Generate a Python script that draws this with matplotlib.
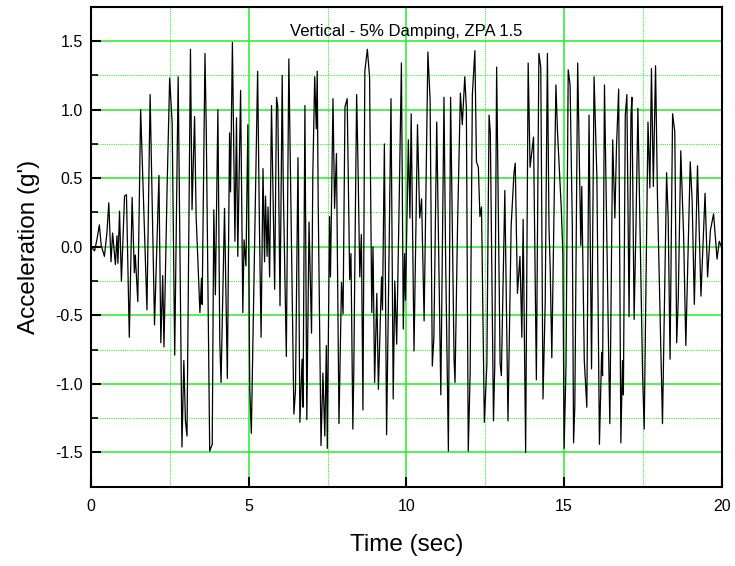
import matplotlib
matplotlib.use("Agg")
import matplotlib.pyplot as plt
from matplotlib.ticker import MultipleLocator

plt.rcParams['font.family'] = ['Liberation Sans', 'DejaVu Sans']

# acceleration time history (seconds, g)
times = [
    0.00, 0.11, 0.19, 0.26, 0.32, 0.42, 0.50, 0.56, 0.63, 0.68, 0.77, 0.82, 0.85, 0.90, 0.96,
    1.06, 1.12, 1.21, 1.30, 1.37, 1.40, 1.48, 1.57, 1.77, 1.87, 2.01, 2.06, 2.15, 2.21, 2.27,
    2.31, 2.41, 2.49, 2.57, 2.65, 2.76, 2.88, 2.94, 2.99, 3.04, 3.15, 3.20, 3.28, 3.33, 3.45,
    3.50, 3.52, 3.61, 3.65, 3.76, 3.84, 3.89, 3.94, 4.02, 4.08, 4.12, 4.23, 4.32, 4.39, 4.42,
    4.48, 4.56, 4.61, 4.65, 4.74, 4.81, 4.85, 4.91, 4.97, 5.03, 5.08, 5.28, 5.34, 5.39, 5.45,
    5.50, 5.53, 5.58, 5.61, 5.66, 5.72, 5.82, 5.88, 5.92, 5.99, 6.06, 6.09, 6.19, 6.27, 6.35,
    6.43, 6.48, 6.56, 6.62, 6.69, 6.72, 6.78, 6.84, 6.91, 6.99, 7.03, 7.09, 7.14, 7.17, 7.20,
    7.29, 7.35, 7.41, 7.46, 7.49, 7.56, 7.59, 7.67, 7.72, 7.78, 7.86, 7.94, 7.99, 8.05, 8.12,
    8.20, 8.24, 8.30, 8.33, 8.37, 8.42, 8.46, 8.52, 8.57, 8.62, 8.68, 8.76, 8.83, 8.90, 8.94,
    8.99, 9.06, 9.11, 9.21, 9.24, 9.30, 9.37, 9.45, 9.51, 9.58, 9.63, 9.69, 9.76, 9.84, 9.90,
    9.94, 9.97, 10.06, 10.11, 10.15, 10.24, 10.35, 10.42, 10.48, 10.56, 10.68, 10.75, 10.82, 10.87, 10.96,
    11.09, 11.19, 11.24, 11.33, 11.40, 11.51, 11.54, 11.62, 11.71, 11.77, 11.85, 11.90, 11.96, 12.02, 12.09,
    12.17, 12.22, 12.28, 12.33, 12.38, 12.47, 12.55, 12.62, 12.66, 12.76, 12.80, 12.86, 12.97, 13.01, 13.12,
    13.22, 13.32, 13.41, 13.45, 13.52, 13.60, 13.66, 13.70, 13.78, 13.86, 13.92, 14.03, 14.12, 14.20, 14.26,
    14.33, 14.40, 14.47, 14.52, 14.56, 14.61, 14.74, 14.79, 14.91, 14.96, 15.00, 15.06, 15.13, 15.19, 15.26,
    15.30, 15.34, 15.43, 15.53, 15.56, 15.64, 15.72, 15.79, 15.87, 15.95, 16.04, 16.12, 16.19, 16.22, 16.28,
    16.41, 16.45, 16.54, 16.61, 16.66, 16.73, 16.80, 16.85, 16.88, 16.94, 16.99, 17.06, 17.12, 17.15, 17.22,
    17.28, 17.34, 17.49, 17.54, 17.66, 17.72, 17.77, 17.83, 17.90, 17.96, 18.12, 18.25, 18.30, 18.36, 18.44,
    18.51, 18.57, 18.62, 18.70, 18.79, 18.86, 19.00, 19.06, 19.13, 19.23, 19.34, 19.47, 19.55, 19.64, 19.74,
    19.85, 19.92, 19.97,
]
accel = [
    0.00, -0.03, 0.06, 0.16, 0.01, -0.07, 0.10, 0.32, -0.11, 0.10, -0.13, 0.08, -0.12, 0.26, -0.25,
    0.37, 0.38, -0.66, 0.36, -0.19, -0.06, -0.40, 1.00, -0.46, 1.11, -0.57, -0.19, 0.52, -0.70, -0.21,
    -0.73, 0.44, 1.23, 0.90, -0.79, 1.24, -1.46, -0.83, -1.27, -1.38, 1.44, 0.27, 0.95, 0.22, -0.48,
    -0.23, -0.42, 1.41, 0.88, -1.49, -1.44, 0.27, -0.35, 1.00, -0.69, -0.99, 0.28, -0.96, 0.83, 0.40,
    1.49, 0.04, 0.94, -0.07, 1.14, -0.48, 0.05, -0.14, 0.89, -1.03, -1.36, 1.28, 0.10, -0.66, 0.57,
    -0.11, 0.37, -0.07, 0.29, -0.22, 1.03, -0.31, 1.09, 1.02, -0.43, 1.25, 0.49, -0.80, 1.37, 0.05,
    -1.22, -1.05, 0.65, -1.28, -0.82, -1.17, 1.03, -1.26, 0.18, -0.63, 0.52, 1.24, 0.86, 1.28, 0.34,
    -1.45, -0.92, -1.38, -0.72, -1.47, 0.22, -0.22, 1.08, 0.28, 0.68, -1.29, -0.26, -0.49, 1.02, 1.08,
    -0.24, -0.05, -1.33, -0.91, 0.03, 1.11, 0.64, -0.22, 0.09, -1.19, 1.28, 1.44, 1.24, -0.48, 0.00,
    -0.99, -0.34, -1.04, -0.22, -0.46, 0.75, -1.37, -0.02, 1.08, -1.11, -0.25, -0.71, 0.20, 1.34, -0.60,
    -0.05, -0.39, 0.78, 0.21, 0.97, -0.76, 0.89, 0.21, 0.35, -0.54, 1.42, 1.07, -0.87, -0.66, 0.91,
    -1.08, 1.09, -0.05, -1.49, 1.09, -0.82, -0.99, 0.15, 1.12, 0.89, 1.24, 1.01, -1.49, -0.92, 1.11,
    1.43, 0.62, 0.58, 0.22, 0.29, -1.28, -0.86, 0.96, 0.83, -1.27, -0.87, 1.31, -0.85, -0.94, 0.41,
    -1.27, 0.15, 0.54, 0.61, -0.34, -0.07, -0.66, 0.20, -1.50, 1.34, 0.58, 0.80, -0.97, 1.41, 1.31,
    -1.11, -0.41, 1.41, 0.15, -0.17, -0.81, 1.18, 0.84, 0.28, -0.05, -1.47, -0.87, 1.29, 1.18, 0.15,
    -1.43, -1.16, 1.34, 0.01, 0.44, -0.83, -1.17, 0.96, -0.89, 1.24, 0.50, -1.44, -0.77, -0.94, 1.18,
    -0.75, -1.29, 0.78, 0.21, 0.72, 1.15, -1.43, -0.83, -1.08, 0.96, 1.11, -0.51, 0.96, 1.09, -0.53,
    0.17, 1.01, -0.94, -1.33, 0.91, 0.43, 1.30, 0.44, 1.32, 0.37, -1.29, 0.54, 0.21, -0.82, 0.97,
    0.84, -0.70, -0.38, 0.70, 0.08, -0.72, 0.62, 0.34, -0.42, 0.59, -0.36, 0.39, -0.22, 0.12, 0.24,
    -0.09, 0.04, 0.01,
]

fig = plt.figure(figsize=(7.35, 5.66), dpi=100)
ax = fig.add_axes([0.124, 0.140, 0.858, 0.848])

ax.plot(times, accel, color='black', lw=0.9, zorder=3)

ax.set_xlim(0, 20)
ax.set_ylim(-1.75, 1.75)
ax.xaxis.set_major_locator(MultipleLocator(5))
ax.xaxis.set_minor_locator(MultipleLocator(2.5))
ax.yaxis.set_major_locator(MultipleLocator(0.5))
ax.yaxis.set_minor_locator(MultipleLocator(0.25))
ax.yaxis.set_major_formatter(matplotlib.ticker.FormatStrFormatter('%.1f'))

ax.grid(which='major', color='#22ee22', lw=1.1, ls='-', zorder=1)
ax.grid(which='minor', color='#33ee33', lw=0.8, ls=(0, (1, 1)), zorder=1)

ax.tick_params(which='major', direction='in', length=7, width=1.5, labelsize=11.5, pad=6)
ax.tick_params(axis='x', which='major', pad=9)
ax.tick_params(which='minor', direction='in', length=5, width=1.2)
ax.tick_params(axis='x', which='minor', length=0)
for s in ax.spines.values():
    s.set_linewidth(1.5)

ax.text(0.5, 0.965, 'Vertical - 5% Damping, ZPA 1.5', transform=ax.transAxes,
        ha='center', va='top', fontsize=12)
ax.set_xlabel('Time (sec)', fontsize=17.5, labelpad=14)
ax.set_ylabel("Acceleration (g')", fontsize=17.5, labelpad=11)

fig.savefig('out.png', dpi=100)
